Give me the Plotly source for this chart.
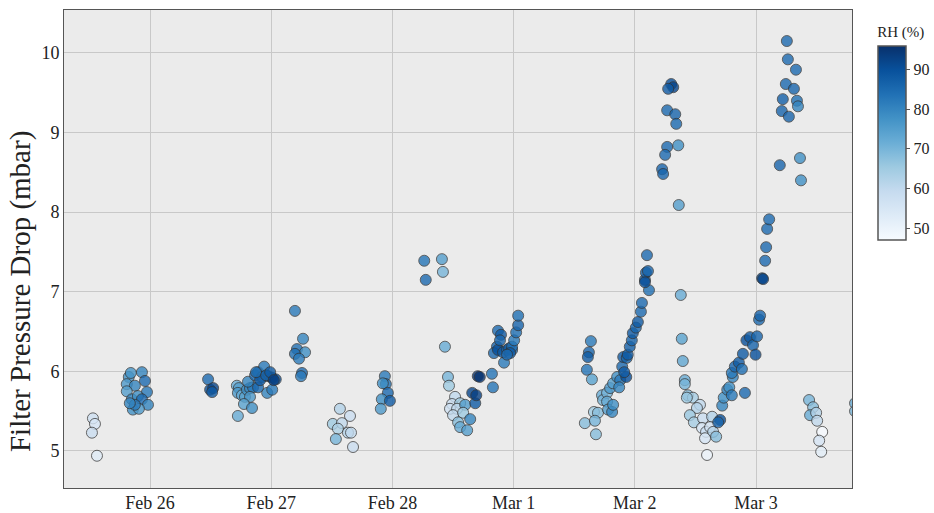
import pandas as pd
import plotly.graph_objects as go

# Hours since 2023-02-25 00:00
hours = [
    12.7, 13.1, 12.5, 13.5,
    19.8, 22.4, 23.0, 19.4, 21.0, 19.4, 23.4, 20.4, 21.6, 22.4, 23.6, 20.6, 21.8, 21.0, 20.0, 20.2,
    35.5, 35.9, 36.5, 36.3,
    41.2, 41.6, 41.4, 42.2, 42.8, 43.2, 43.8, 44.4, 43.4, 44.8, 45.4, 46.6, 46.2, 47.4, 48.2, 48.9, 47.2, 48.2, 45.4, 43.8, 42.6, 44.2, 41.4, 45.8, 45.0, 47.0, 47.8, 48.5,
    52.7, 54.3, 53.1, 54.7, 52.7, 53.5, 54.1, 53.9,
    61.6, 63.6, 60.2, 62.0, 61.2, 63.2, 63.8, 60.8, 64.2,
    70.5, 70.7, 70.1, 71.1, 69.9, 71.5, 69.7,
    78.3, 78.6, 81.8, 82.0, 82.4,
    83.0, 83.2, 84.4, 83.8, 85.4, 83.4, 84.8, 86.4, 84.0, 86.0, 85.0, 87.4, 85.4, 86.8, 88.4, 87.8, 88.6, 88.9, 89.3, 91.7, 91.9, 94.1,
    92.9, 93.5, 92.7, 92.1, 92.9, 93.9, 94.7, 95.1, 95.7, 95.7, 96.1, 96.5, 96.9, 96.9, 95.3, 94.7, 93.3,
    111.3, 110.9, 110.7, 110.5, 111.5, 110.1, 112.3, 111.9, 112.7, 112.1,
    113.5, 113.7, 114.5, 114.5, 114.7, 115.5, 115.7, 115.1, 115.7, 116.5, 117.1, 116.9, 117.5, 117.7, 118.4, 118.6, 119.0, 119.4, 119.6, 120.2, 120.6, 121.2, 121.4, 122.0, 122.2, 122.4, 122.8, 122.6, 122.0, 118.3, 117.9,
    127.2, 127.6, 126.6, 126.4, 128.0, 128.2, 126.4, 128.6, 126.0, 125.4, 125.6, 128.7, 129.1, 129.3, 129.5, 129.9, 129.9,
    130.5, 131.5, 130.3, 132.9, 132.3, 130.9, 131.7, 133.5, 135.3, 133.3, 134.1, 134.9, 135.5, 136.1, 133.9, 134.3, 136.9, 136.5,
    137.3, 137.6, 138.3, 138.7, 139.2, 139.4, 139.2, 139.8, 140.6, 141.2, 141.4, 141.8, 142.1, 142.8, 143.4, 143.9, 144.2, 144.6, 144.8,
    145.2, 145.8, 146.0, 146.2, 146.6, 145.4,
    150.1, 150.3, 151.9, 149.9, 151.5, 149.3, 152.1, 152.3, 149.1, 150.5, 148.7, 152.7, 152.9,
    154.5, 155.3, 154.7, 155.9, 156.1, 157.1, 156.5, 156.9,
    163.6, 163.6,
]

pressure_drop = [
    5.41, 5.34, 5.23, 4.94,
    5.93, 5.99, 5.88, 5.84, 5.82, 5.75, 5.74, 5.65, 5.69, 5.65, 5.58, 5.52, 5.53, 5.58, 5.60, 5.98,
    5.90, 5.77, 5.79, 5.74,
    5.82, 5.79, 5.73, 5.70, 5.68, 5.77, 5.79, 5.80, 5.87, 5.95, 5.99, 6.06, 5.93, 5.94, 5.92, 5.90, 5.73, 5.77, 5.80, 5.68, 5.59, 5.54, 5.44, 5.89, 5.99, 5.95, 5.99, 5.89,
    6.76, 6.41, 6.28, 6.24, 6.22, 6.16, 5.98, 5.94,
    5.53, 5.44, 5.34, 5.35, 5.28, 5.23, 5.23, 5.15, 5.05,
    5.94, 5.84, 5.85, 5.73, 5.65, 5.63, 5.53,
    7.39, 7.15, 7.41, 7.25, 6.31,
    5.93, 5.82, 5.68, 5.59, 5.60, 5.53, 5.53, 5.58, 5.45, 5.48, 5.36, 5.40, 5.30, 5.26, 5.60, 5.73, 5.70, 5.94, 5.93, 5.97, 5.80, 6.11,
    6.51, 6.46, 6.31, 6.23, 6.27, 6.24, 6.27, 6.29, 6.27, 6.31, 6.39, 6.49, 6.58, 6.70, 6.23, 6.21, 6.39,
    6.38, 6.24, 6.18, 6.02, 5.90, 5.35, 5.21, 5.49, 5.48, 5.38,
    5.70, 5.64, 5.73, 5.62, 5.52, 5.49, 5.58, 5.79, 5.85, 5.93, 5.89, 5.80, 6.06, 6.18, 6.17, 6.21, 6.31, 6.39, 6.48, 6.55, 6.62, 6.75, 6.86, 7.15, 7.24, 7.46, 7.02, 7.26, 7.12, 5.93, 5.99,
    9.61, 9.57, 9.55, 9.28, 9.23, 9.11, 8.82, 8.84, 8.72, 8.54, 8.48, 8.09, 6.96, 6.41, 6.13, 5.89, 5.84,
    5.70, 5.67, 5.67, 5.58, 5.54, 5.45, 5.36, 5.41, 5.43, 5.29, 5.24, 5.30, 5.24, 5.18, 5.16, 4.95, 5.39, 5.36,
    5.57, 5.67, 5.77, 5.80, 5.70, 5.93, 5.98, 6.06, 6.11, 6.03, 6.22, 5.73, 6.39, 6.43, 6.33, 6.21, 6.44, 6.65, 6.70,
    7.17, 7.39, 7.56, 7.79, 7.91, 7.16,
    10.15, 9.92, 9.79, 9.61, 9.55, 9.42, 9.40, 9.33, 9.27, 9.20, 8.59, 8.68, 8.40,
    5.64, 5.55, 5.45, 5.48, 5.38, 5.24, 5.13, 4.99,
    5.60, 5.50,
]

rh = [
    57, 55, 58, 53,
    78, 80, 85, 76, 80, 75, 82, 80, 78, 85, 80, 78, 76, 82, 80, 77,
    85, 90, 92, 88,
    72, 75, 76, 72, 74, 78, 80, 82, 80, 85, 86, 82, 84, 88, 92, 90, 80, 82, 85, 76, 74, 78, 72, 88, 84, 86, 88, 93,
    82, 80, 84, 78, 84, 82, 85, 82,
    62, 58, 65, 60, 63, 62, 60, 70, 58,
    82, 84, 78, 85, 78, 88, 76,
    83, 85, 75, 70, 72,
    70, 65, 60, 58, 65, 57, 60, 75, 60, 65, 68, 80, 72, 75, 88, 92, 93, 95, 95, 83, 83, 82,
    85, 88, 87, 85, 90, 88, 86, 88, 85, 84, 82, 84, 86, 84, 88, 85, 86,
    82, 86, 88, 83, 74, 68, 68, 65, 68, 70,
    72, 70, 70, 72, 75, 80, 78, 76, 75, 78, 82, 80, 85, 88, 86, 88, 87, 86, 88, 86, 88, 85, 85, 88, 87, 85, 84, 86, 90, 90, 88,
    90, 92, 88, 85, 86, 85, 85, 78, 85, 86, 86, 75, 72, 74, 73, 72, 70,
    68, 64, 66, 60, 62, 66, 64, 58, 62, 55, 58, 56, 62, 68, 55, 50, 90, 86,
    80, 78, 80, 78, 82, 80, 82, 86, 88, 84, 88, 85, 90, 88, 86, 90, 86, 85, 86,
    90, 85, 85, 85, 85, 92,
    85, 85, 85, 85, 86, 87, 84, 80, 86, 86, 86, 78, 78,
    70, 68, 72, 62, 60, 45, 55, 52,
    72, 70,
]

rh_ticks = [50, 60, 70, 80, 90]
blues = [
    [0.0, "rgb(247,251,255)"], [0.125, "rgb(222,235,247)"], [0.25, "rgb(198,219,239)"],
    [0.375, "rgb(158,202,225)"], [0.5, "rgb(107,174,214)"], [0.625, "rgb(66,146,198)"],
    [0.75, "rgb(33,113,181)"], [0.875, "rgb(8,81,156)"], [1.0, "rgb(8,48,107)"],
]

base = pd.Timestamp("2023-02-25 00:00")
times = [base + pd.Timedelta(hours=h) for h in hours]

FONT = "Liberation Serif"

fig = go.Figure()
fig.add_trace(go.Scatter(
    x=times, y=pressure_drop, mode="markers", showlegend=False,
    marker=dict(
        size=11, color=rh, colorscale=blues, cmin=47, cmax=96, opacity=0.8,
        line=dict(width=1, color="rgba(50,50,50,0.9)"),
        colorbar=dict(
            title=dict(text="RH (%)", side="top", font=dict(family=FONT, size=15, color="#222")),
            thickness=28, len=216, lenmode="pixels",
            x=1.033, xanchor="left", y=0.745, yanchor="middle",
            outlinewidth=1.5, outlinecolor="#555",
            ticks="outside", ticklen=4, tickcolor="#555",
            tickvals=rh_ticks, tickfont=dict(family=FONT, size=16, color="#222"),
            xpad=0, ypad=0,
        ),
    ),
))

# figure slightly wider than the window so the colorbar never squeezes the plot area;
# the extra white strip on the right falls outside the 934px viewport
fig.update_layout(
    width=980, height=513,
    margin=dict(l=64, r=128, t=10, b=25),
    paper_bgcolor="white", plot_bgcolor="#EBEBEB",
    font=dict(family=FONT, size=18, color="#222"),
    xaxis=dict(
        type="date",
        range=[base + pd.Timedelta(hours=6.97), base + pd.Timedelta(hours=163.0)],
        tick0="2023-02-26", dtick=86400000, tickformat="%b %-d",
        showgrid=True, gridcolor="#C8C8C8", gridwidth=1,
        showline=True, linecolor="#555", linewidth=1, mirror=True,
        ticks="", zeroline=False, automargin=False, ticklabelstandoff=-2,
        tickfont=dict(family=FONT, size=18, color="#222"),
    ),
    yaxis=dict(
        range=[4.535, 10.54], dtick=1, tick0=5,
        showgrid=True, gridcolor="#C8C8C8", gridwidth=1,
        showline=True, linecolor="#555", linewidth=1, mirror=True,
        ticks="", zeroline=False, automargin=False,
        tickfont=dict(family=FONT, size=18, color="#222"),
    ),
    annotations=[dict(
        text="Filter Pressure Drop (mbar)", textangle=-90,
        xref="paper", yref="paper", x=-0.0558, y=0.41,
        xanchor="center", yanchor="middle", showarrow=False,
        font=dict(family=FONT, size=29, color="#222"),
    )],
)

fig.write_html(
    "out.html",
    config={"displayModeBar": False},
    post_script="document.body.style.margin='0';document.body.style.overflow='hidden';",
)
